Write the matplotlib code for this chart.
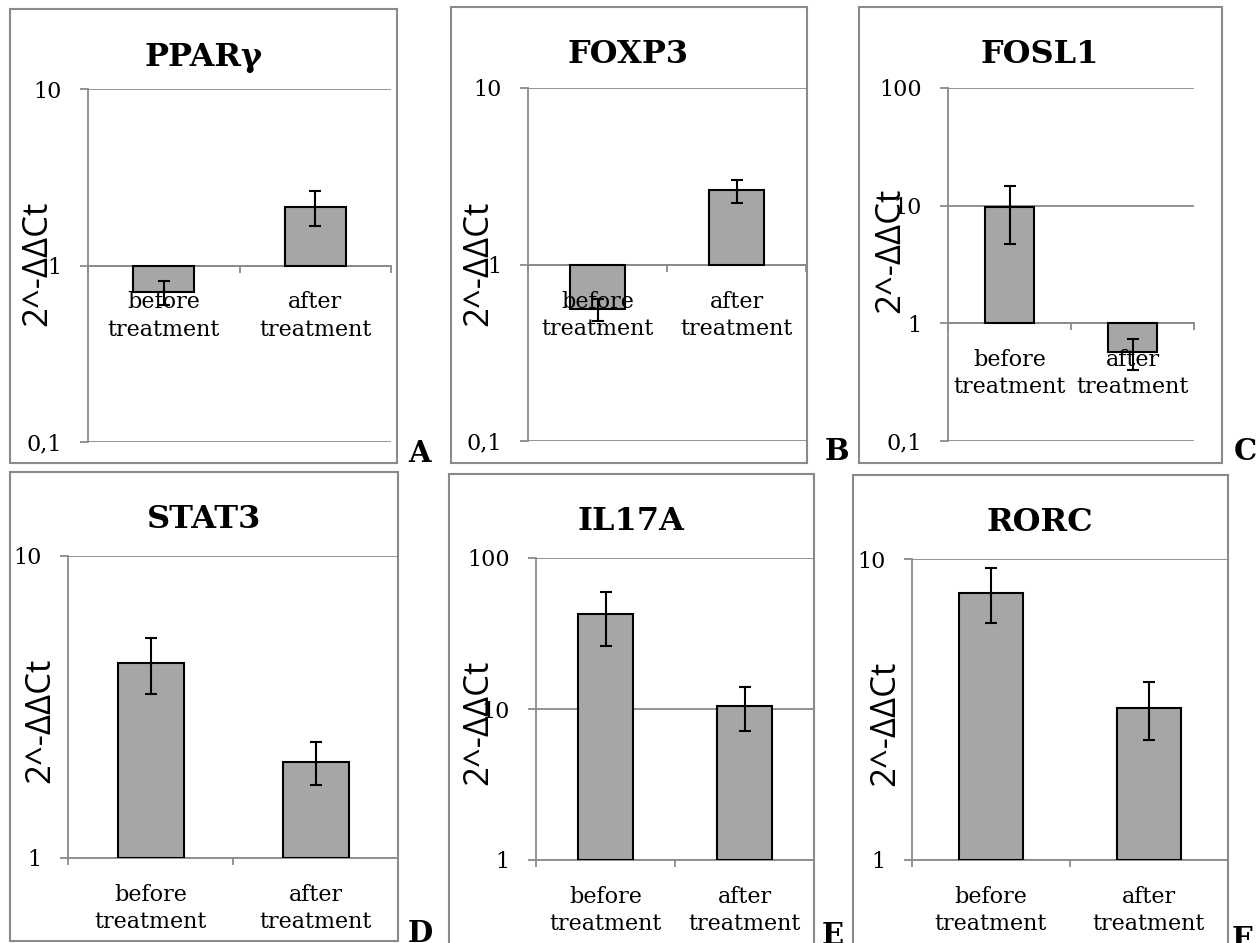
import matplotlib
matplotlib.use("Agg")
import matplotlib.pyplot as plt
from matplotlib.patches import Rectangle
from matplotlib.ticker import NullLocator

W, H = 1260, 943

genes = ["PPARγ", "FOXP3", "FOSL1", "STAT3", "IL17A", "RORC"]
panelLetters = ["A", "B", "C", "D", "E", "F"]
categories = ["before\ntreatment", "after\ntreatment"]

beforeVals = [0.71, 0.56, 9.7, 4.42, 42.6, 7.71]
beforeErr = [0.11, 0.08, 5.0, 0.92, 16.5, 1.6]
afterVals = [2.15, 2.63, 0.57, 2.08, 10.5, 3.2]
afterErr = [0.48, 0.40, 0.17, 0.34, 3.4, 0.69]

yTicks = [[0.1, 1, 10], [0.1, 1, 10], [0.1, 1, 10, 100],
          [1, 10], [1, 10, 100], [1, 10]]
yTickText = {0.1: "0,1", 1: "1", 10: "10", 100: "100"}

# layout in pixels: axes (left, right, top, bottom), frame (left, right, top, bottom)
axesPx = [(88, 391, 89, 442), (528, 806, 88, 441), (948, 1194, 88, 441),
          (68, 398, 556, 858), (536, 814, 558, 860), (912, 1228, 559, 860)]
framePx = [(10, 397, 9, 463), (451, 807, 7, 463), (859, 1222, 7, 463),
           (10, 398, 472, 941), (449, 814, 474, 946), (853, 1228, 475, 946)]
titlePx = [(204, 66), (628, 63), (1040, 63), (204, 528), (631, 530), (1040, 531)]
ylabelPx = [(37, 263), (478, 263), (890, 250), (40, 720), (478, 722), (885, 723)]
letterPx = [(420, 453), (837, 452), (1245, 452), (420, 933), (833, 935), (1242, 940)]

gridColor = "#8a8a8a"
barColor = "#a6a6a6"
serif = "DejaVu Serif"
sans = ["Open Sans", "DejaVu Sans"]


def fx(x):
    return x / W


def fy(y):
    return 1 - y / H


fig = plt.figure(figsize=(W / 100, H / 100), dpi=100)
fig.patch.set_facecolor("white")

for i in range(6):
    # panel frame
    l, r, t, b = framePx[i]
    fig.patches.append(Rectangle((fx(l), fy(b)), fx(r - l), (b - t) / H,
                                 transform=fig.transFigure, fill=False,
                                 edgecolor=gridColor, linewidth=1.5, zorder=0))

    l, r, t, b = axesPx[i]
    ax = fig.add_axes([fx(l), fy(b), fx(r - l), (b - t) / H])
    ax.set_yscale("log")
    ax.set_ylim(yTicks[i][0], yTicks[i][-1])
    ax.set_xlim(-0.5, 1.5)

    vals = [beforeVals[i], afterVals[i]]
    errs = [beforeErr[i], afterErr[i]]
    heights = [v - 1 for v in vals]
    ax.bar([0, 1], heights, bottom=1, width=0.4, color=barColor,
           edgecolor="black", linewidth=1.5, zorder=3)
    ax.errorbar([0, 1], vals, yerr=errs, fmt="none", ecolor="black",
                elinewidth=1.5, capsize=4.3, capthick=1.5, zorder=4)

    for s in ["top", "right"]:
        ax.spines[s].set_visible(False)
    ax.spines["left"].set_color(gridColor)
    ax.spines["left"].set_linewidth(1.3)
    ax.spines["bottom"].set_position(("data", 1))
    ax.spines["bottom"].set_color(gridColor)
    ax.spines["bottom"].set_linewidth(1.3)

    ax.set_yticks(yTicks[i])
    ax.set_yticklabels([yTickText[v] for v in yTicks[i]], fontsize=16,
                       family=serif)
    ax.yaxis.set_minor_locator(NullLocator())
    ax.tick_params(axis="y", length=5.8, width=1.3, color=gridColor, pad=13)
    ax.yaxis.grid(True, color=gridColor, linewidth=1.3)
    ax.set_axisbelow(True)

    ax.set_xticks([-0.5, 0.5, 1.5])
    ax.set_xticklabels(["", "", ""])
    ax.tick_params(axis="x", length=5, width=1.3, color=gridColor)

    for j, cat in enumerate(categories):
        ax.annotate(cat, xy=(j, 1), xycoords="data", xytext=(0, -26),
                    textcoords="offset pixels", ha="center", va="top",
                    fontsize=16, family=serif, linespacing=1.3, zorder=5,
                    annotation_clip=False)

    fig.text(fx(titlePx[i][0]), fy(titlePx[i][1]), genes[i], ha="center",
             va="baseline", fontsize=23, fontweight="bold", family=serif)
    fig.text(fx(ylabelPx[i][0]), fy(ylabelPx[i][1]), "2^-ΔΔCt", rotation=90,
             ha="center", va="center", fontsize=25, family=sans)
    fig.text(fx(letterPx[i][0]), fy(letterPx[i][1]), panelLetters[i],
             ha="center", va="center", fontsize=21, fontweight="bold",
             family=serif)

fig.savefig("out.png", dpi=100)
